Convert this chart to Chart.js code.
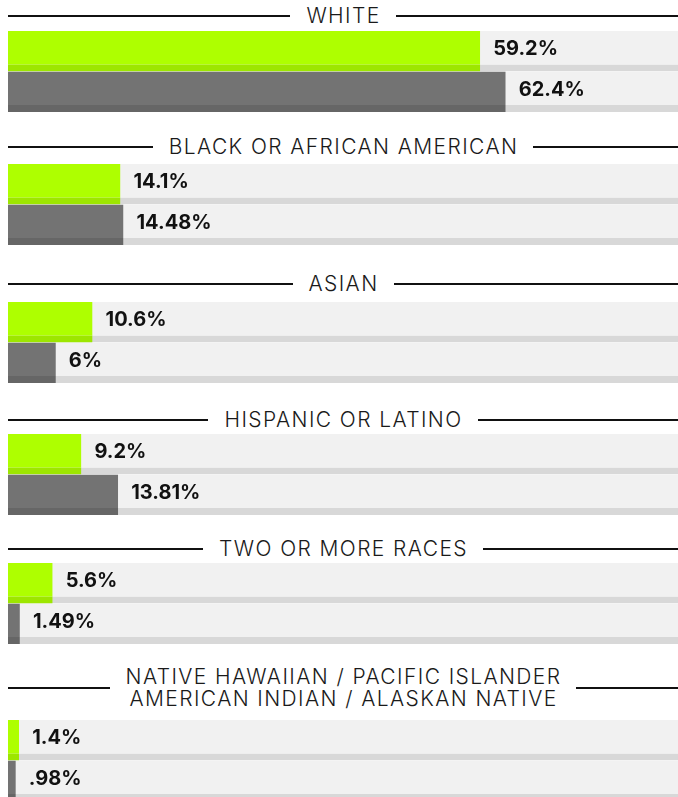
<!DOCTYPE html>
<html>
<head>
<meta charset="utf-8">
<script src="https://cdn.jsdelivr.net/npm/chart.js@4/dist/chart.umd.min.js"></script>
<style>
  body { margin: 0; background: #fff; width: 678px; height: 797px; overflow: hidden; position: relative; }
  .hdr { position: absolute; left: 8px; width: 670px; display: flex; align-items: center;
         font-family: Inter, "Open Sans", sans-serif; font-weight: 300; font-size: 21px;
         letter-spacing: 1.4px; color: #1a1a1a; text-transform: uppercase; line-height: 22px; }
  .hdr .ln { flex: 1; height: 2px; background: #111; }
  .hdr .tx { padding: 0 15px 0 16px; text-align: center; white-space: nowrap; }
  .box { position: absolute; left: 8px; width: 670px; height: 81px; }
</style>
</head>
<body>
<script>
// groups (top to bottom)
let groups = ['White', 'Black or African American', 'Asian', 'Hispanic or Latino', 'Two or more races',
              'Native Hawaiian / Pacific Islander\nAmerican Indian / Alaskan Native'];
// green bar (first) and gray bar (second) in each group
let greenValues = [59.2, 14.1, 10.6, 9.2, 5.6, 1.4];
let grayValues = [62.4, 14.48, 6, 13.81, 1.49, 0.98];
let greenLabels = ['59.2%', '14.1%', '10.6%', '9.2%', '5.6%', '1.4%'];
let grayLabels = ['62.4%', '14.48%', '6%', '13.81%', '1.49%', '.98%'];

// layout (page pixels)
const lineY = [15.5, 147, 284, 420, 549, 688];
const barTop = [31, 164, 302, 434, 563, 720];
const xMax = 84;

const valueLabels = {
    id: 'valueLabels',
    afterDatasetsDraw(chart) {
        const ctx = chart.ctx;
        const meta = chart.getDatasetMeta(1);
        const labels = chart.data.datasets[1].valueLabels;
        ctx.save();
        ctx.font = '700 20px Inter, "Open Sans", sans-serif';
        ctx.fillStyle = '#111';
        ctx.textBaseline = 'middle';
        meta.data.forEach((bar, i) => {
            ctx.fillText(labels[i], bar.x + 13, bar.y - 2);
        });
        ctx.restore();
    }
};

groups.forEach((g, i) => {
    let hdr = document.createElement('div');
    hdr.className = 'hdr';
    hdr.style.top = (lineY[i] - 30) + 'px';
    hdr.style.height = '60px';
    hdr.innerHTML = '<div class="ln"></div><div class="tx">' + g.replace('\n', '<br>') + '</div><div class="ln"></div>';
    document.body.appendChild(hdr);

    let box = document.createElement('div');
    box.className = 'box';
    box.style.top = barTop[i] + 'px';
    let canvas = document.createElement('canvas');
    box.appendChild(canvas);
    document.body.appendChild(box);

    new Chart(canvas, {
        type: 'bar',
        data: {
            labels: ['a', 'b'],
            datasets: [
                {
                    // background track
                    data: [xMax, xMax],
                    backgroundColor: '#f1f1f1',
                    borderColor: '#d8d8d8',
                    borderWidth: {bottom: 7},
                    order: 2
                },
                {
                    data: [greenValues[i], grayValues[i]],
                    valueLabels: [greenLabels[i], grayLabels[i]],
                    backgroundColor: ['#aeff00', '#737373'],
                    borderColor: ['#9de600', '#666666'],
                    borderWidth: {bottom: 7},
                    order: 1
                }
            ]
        },
        options: {
            indexAxis: 'y',
            responsive: true,
            maintainAspectRatio: false,
            animation: false,
            datasets: { bar: { grouped: false, categoryPercentage: 1, barPercentage: 1, inflateAmount: 0, borderSkipped: false } },
            layout: { padding: 0 },
            scales: {
                x: { display: false, min: 0, max: xMax },
                y: { display: false }
            },
            plugins: { legend: { display: false }, tooltip: { enabled: false } }
        },
        plugins: [valueLabels]
    });
});
</script>
</body>
</html>
